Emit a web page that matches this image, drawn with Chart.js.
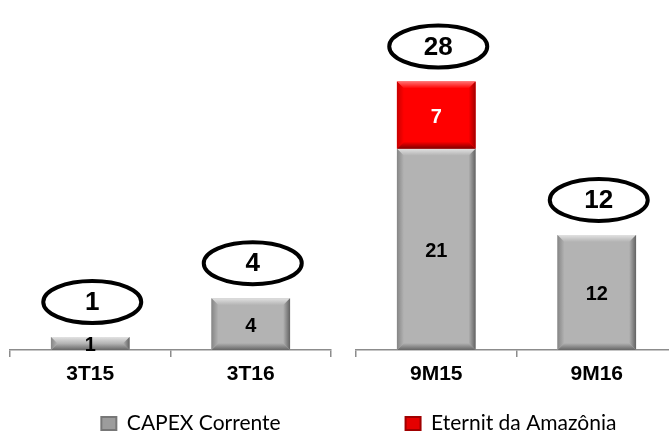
<!DOCTYPE html>
<html>
<head>
<meta charset="utf-8">
<script src="https://cdn.jsdelivr.net/npm/chart.js@4.4.1/dist/chart.umd.min.js"></script>
<style>
  html, body { margin: 0; padding: 0; width: 669px; height: 434px; overflow: hidden; background: #fff; }
  .box { position: absolute; }
</style>
</head>
<body>
<div class="box" style="left:0px;top:0px;width:345px;height:400px;"><canvas id="cLeft"></canvas></div>
<div class="box" style="left:345px;top:0px;width:345px;height:400px;"><canvas id="cRight"></canvas></div>
<div class="box" style="left:61px;top:409px;width:260px;height:80px;"><canvas id="legA"></canvas></div>
<div class="box" style="left:361px;top:409px;width:300px;height:80px;"><canvas id="legB"></canvas></div>
<script>
// ---- data ----
const quarterLabels = ['3T15', '3T16'];
const quarterCapex = [1, 4];
const ytdLabels = ['9M15', '9M16'];
const ytdCapex = [21, 12];
const ytdEternit = [7, 0];
const seriesNames = ['CAPEX Corrente', 'Eternit da Amazônia'];

// ---- styles ----
const GRAY = { fill: '#b3b3b3', light: '#e2e2e2', left: '#858585', right: '#626262', bottom: '#666666', label: '#000000' };
const RED = { fill: '#ff0000', light: '#ff7070', left: '#c80000', right: '#a00000', bottom: '#800000', label: '#ffffff' };
const AXIS = '#8c8c8c';

function trap(ctx, pts, g) {
  ctx.beginPath();
  ctx.moveTo(pts[0][0], pts[0][1]);
  for (let i = 1; i < pts.length; i++) ctx.lineTo(pts[i][0], pts[i][1]);
  ctx.closePath();
  ctx.fillStyle = g;
  ctx.fill();
}

const barDecor = {
  id: 'barDecor',
  afterDatasetsDraw(chart) {
    const ctx = chart.ctx;
    ctx.save();
    chart.data.datasets.forEach((ds, di) => {
      const meta = chart.getDatasetMeta(di);
      const st = ds.bevel;
      meta.data.forEach((el, i) => {
        const v = ds.data[i];
        if (!v) return;
        const p = el.getProps(['x', 'y', 'base', 'width'], true);
        const L = p.x - p.width / 2, R = p.x + p.width / 2;
        const T = Math.min(p.y, p.base), B = Math.max(p.y, p.base);
        const b = Math.min(7, (B - T) / 2);
        let g;
        g = ctx.createLinearGradient(0, T, 0, T + b); g.addColorStop(0, st.light); g.addColorStop(1, st.fill);
        trap(ctx, [[L, T], [R, T], [R - b, T + b], [L + b, T + b]], g);
        g = ctx.createLinearGradient(0, B, 0, B - b); g.addColorStop(0, st.bottom); g.addColorStop(1, st.fill);
        trap(ctx, [[L, B], [R, B], [R - b, B - b], [L + b, B - b]], g);
        g = ctx.createLinearGradient(L, 0, L + b, 0); g.addColorStop(0, st.left); g.addColorStop(1, st.fill);
        trap(ctx, [[L, T], [L + b, T + b], [L + b, B - b], [L, B]], g);
        g = ctx.createLinearGradient(R, 0, R - b, 0); g.addColorStop(0, st.right); g.addColorStop(1, st.fill);
        trap(ctx, [[R, T], [R, B], [R - b, B - b], [R - b, T + b]], g);
        // value label
        ctx.fillStyle = st.label;
        ctx.font = 'bold 20px "Liberation Sans", Arial, sans-serif';
        ctx.textAlign = 'center';
        ctx.textBaseline = 'middle';
        ctx.fillText(String(v), p.x, (T + B) / 2 + 2);
      });
    });
    // totals in ellipses
    const n = chart.data.labels.length;
    for (let i = 0; i < n; i++) {
      let total = 0, top = Infinity, x = 0;
      chart.data.datasets.forEach((ds, di) => {
        const v = ds.data[i];
        const el = chart.getDatasetMeta(di).data[i];
        if (!el) return;
        const p = el.getProps(['x', 'y', 'base'], true);
        x = p.x;
        if (v) { total += v; top = Math.min(top, p.y, p.base); }
      });
      if (!isFinite(top)) continue;
      const cx = x + 2, cy = top - 35;
      ctx.beginPath();
      ctx.ellipse(cx, cy, 49, 21, 0, 0, Math.PI * 2);
      ctx.lineWidth = 4;
      ctx.strokeStyle = '#000';
      ctx.stroke();
      ctx.fillStyle = '#000';
      ctx.font = 'bold 26px "Liberation Sans", Arial, sans-serif';
      ctx.textAlign = 'center';
      ctx.textBaseline = 'middle';
      ctx.fillText(String(total), cx, cy + 1);
    }
    ctx.restore();
  }
};

function axisOpts(yMax) {
  return {
    x: {
      stacked: true,
      afterFit: (s) => { s.height = 50; },
      grid: { display: true, drawOnChartArea: false, drawTicks: true, tickLength: 7, color: AXIS, lineWidth: 1.5, offset: true },
      border: { display: true, color: AXIS, width: 1.5 },
      ticks: { color: '#000', padding: 5, font: { family: '"Liberation Sans", Arial, sans-serif', size: 21, weight: 'bold' } }
    },
    y: { stacked: true, display: false, min: 0, max: yMax }
  };
}

const common = {
  responsive: true,
  maintainAspectRatio: false,
  animation: false,
  plugins: { legend: { display: false }, tooltip: { enabled: false } }
};

new Chart(document.getElementById('cLeft'), {
  type: 'bar',
  data: {
    labels: quarterLabels,
    datasets: [
      { label: seriesNames[0], data: quarterCapex, backgroundColor: GRAY.fill, borderWidth: 0, bevel: GRAY, barPercentage: 0.49, categoryPercentage: 1 }
    ]
  },
  options: Object.assign({}, common, { layout: { padding: { left: 10, right: 14, top: 0, bottom: 0 } }, scales: axisOpts(27) }),
  plugins: [barDecor]
});

new Chart(document.getElementById('cRight'), {
  type: 'bar',
  data: {
    labels: ytdLabels,
    datasets: [
      { label: seriesNames[0], data: ytdCapex, backgroundColor: GRAY.fill, borderWidth: 0, bevel: GRAY, barPercentage: 0.49, categoryPercentage: 1 },
      { label: seriesNames[1], data: ytdEternit, backgroundColor: RED.fill, borderWidth: 0, bevel: RED, barPercentage: 0.49, categoryPercentage: 1 }
    ]
  },
  options: Object.assign({}, common, { layout: { padding: { left: 11, right: 13, top: 0, bottom: 0 } }, scales: axisOpts(36.5) }),
  plugins: [barDecor]
});

function legendChart(id, label, fill, border) {
  new Chart(document.getElementById(id), {
    type: 'bar',
    data: { labels: [], datasets: [{ label: label, data: [], backgroundColor: fill, borderColor: border, borderWidth: 2 }] },
    options: {
      responsive: true, maintainAspectRatio: false, animation: false,
      layout: { padding: 0 },
      scales: { x: { display: false }, y: { display: false } },
      plugins: {
        tooltip: { enabled: false },
        legend: {
          display: true, position: 'top',
          labels: { color: '#000', boxWidth: 15, boxHeight: 13, padding: 4, font: { family: 'Lato, "Open Sans", sans-serif', size: 21 } }
        }
      }
    }
  });
}
legendChart('legA', seriesNames[0], '#9c9c9c', '#777777');
legendChart('legB', seriesNames[1], '#e60000', '#a00000');
</script>
</body>
</html>
